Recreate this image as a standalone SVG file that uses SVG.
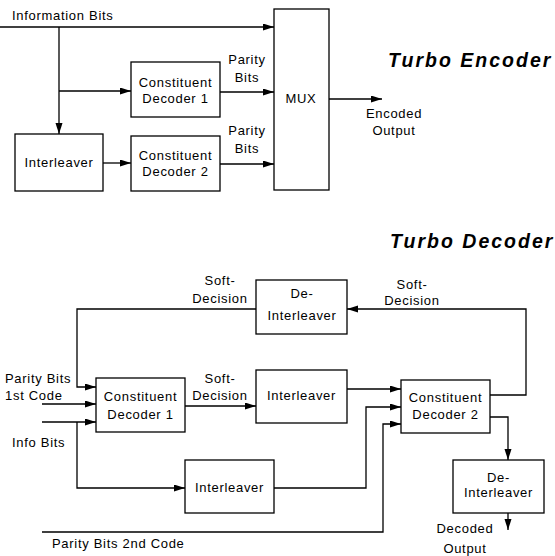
<svg xmlns="http://www.w3.org/2000/svg" width="555" height="556" viewBox="0 0 555 556">
<style>
.box{fill:#fff;stroke:#000;stroke-width:1.3}
.ln{fill:none;stroke:#000;stroke-width:1.3}
.arr{marker-end:url(#ah)}
text{font-family:"Liberation Sans",Arial,sans-serif;font-size:13px;letter-spacing:0.7px;fill:#000}
.c{text-anchor:middle}
.title{font-size:19.5px;font-weight:bold;font-style:italic;letter-spacing:2px}
</style>
<defs>
<marker id="ah" markerUnits="userSpaceOnUse" markerWidth="12" markerHeight="8" refX="11" refY="3.5" orient="auto">
<path d="M0,0 L11,3.5 L0,7 z" fill="#000"/>
</marker>
</defs>
<rect width="555" height="556" fill="#fff"/>

<g id="connectors">
<!-- encoder -->
<path class="ln arr" d="M0,27 H274"/>
<path class="ln arr" d="M59,27 V134"/>
<path class="ln arr" d="M59,91 H131"/>
<path class="ln arr" d="M103,163 H131"/>
<path class="ln arr" d="M220,92 H274"/>
<path class="ln arr" d="M220,164 H274"/>
<path class="ln arr" d="M329,99 H382"/>
<!-- decoder -->
<path class="ln arr" d="M490,395 H526 V309 H347"/>
<path class="ln arr" d="M256,309 H77 V387 H96"/>
<path class="ln arr" d="M42,404 H96"/>
<path class="ln arr" d="M42,422 H96"/>
<path class="ln arr" d="M77,422 V488 H185"/>
<path class="ln arr" d="M185,406 H256"/>
<path class="ln arr" d="M347,389 H401"/>
<path class="ln arr" d="M274,488 H366 V407 H401"/>
<path class="ln arr" d="M42,532 H383 V424 H401"/>
<path class="ln arr" d="M490,417 H508 V460"/>
<path class="ln arr" d="M508,513 V530"/>
</g>

<g id="enc-labels">
<text x="12" y="20">Information Bits</text>
<text class="c" x="247" y="64">Parity</text>
<text class="c" x="247" y="82">Bits</text>
<text class="c" x="247" y="135">Parity</text>
<text class="c" x="247" y="153">Bits</text>
<text class="c" x="394" y="118">Encoded</text>
<text class="c" x="394" y="135">Output</text>
<text class="title" x="388" y="67">Turbo Encoder</text>
</g>

<g id="enc-interleaver">
<rect class="box" x="15" y="134" width="88" height="57"/>
<text class="c" x="59" y="167">Interleaver</text>
</g>
<g id="enc-cd1">
<rect class="box" x="131" y="62" width="89" height="55"/>
<text class="c" x="175.5" y="87">Constituent</text>
<text class="c" x="175.5" y="103">Decoder 1</text>
</g>
<g id="enc-cd2">
<rect class="box" x="131" y="136" width="89" height="55"/>
<text class="c" x="175.5" y="160">Constituent</text>
<text class="c" x="175.5" y="176">Decoder 2</text>
</g>
<g id="mux">
<rect class="box" x="274" y="9" width="55" height="181"/>
<text class="c" x="301" y="103">MUX</text>
</g>

<g id="dec-labels">
<text class="title" x="390" y="248" letter-spacing="1.8">Turbo Decoder</text>
<text class="c" x="220" y="285">Soft-</text>
<text class="c" x="220" y="303">Decision</text>
<text class="c" x="412" y="289">Soft-</text>
<text class="c" x="412" y="305">Decision</text>
<text class="c" x="220" y="383">Soft-</text>
<text class="c" x="220" y="400">Decision</text>
<text x="5" y="383">Parity Bits</text>
<text x="5" y="400">1st Code</text>
<text x="12" y="447">Info Bits</text>
<text x="52" y="548">Parity Bits 2nd Code</text>
<text class="c" x="465" y="533">Decoded</text>
<text class="c" x="465" y="553">Output</text>
</g>

<g id="dec-deint1">
<rect class="box" x="256" y="280" width="91" height="54"/>
<text class="c" x="302" y="298">De-</text>
<text class="c" x="302" y="320">Interleaver</text>
</g>
<g id="dec-cd1">
<rect class="box" x="96" y="378" width="89" height="54"/>
<text class="c" x="140.5" y="401">Constituent</text>
<text class="c" x="140.5" y="419">Decoder 1</text>
</g>
<g id="dec-int1">
<rect class="box" x="256" y="370" width="91" height="53"/>
<text class="c" x="301.5" y="400">Interleaver</text>
</g>
<g id="dec-int2">
<rect class="box" x="185" y="460" width="89" height="53"/>
<text class="c" x="229.5" y="492">Interleaver</text>
</g>
<g id="dec-cd2">
<rect class="box" x="401" y="380" width="89" height="53"/>
<text class="c" x="445.5" y="402">Constituent</text>
<text class="c" x="445.5" y="419">Decoder 2</text>
</g>
<g id="dec-deint2">
<rect class="box" x="453" y="460" width="91" height="53"/>
<text class="c" x="498.5" y="482">De-</text>
<text class="c" x="498.5" y="497">Interleaver</text>
</g>
</svg>
